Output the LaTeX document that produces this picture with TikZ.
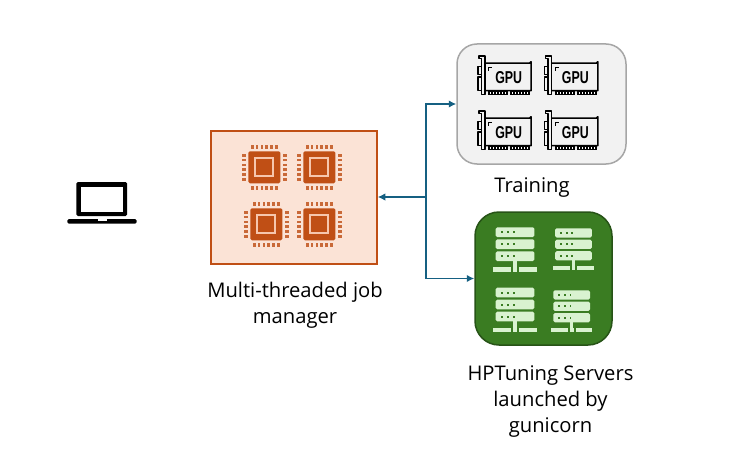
\documentclass[tikz,border=0pt]{standalone}
\usetikzlibrary{arrows.meta}
\usepackage{fontspec}
\setmainfont{Open Sans}
\newfontfamily\gpufont{Liberation Sans}
\definecolor{flow}{HTML}{156082}
\definecolor{rust}{HTML}{C04F15}
\definecolor{peach}{HTML}{FBE3D6}
\definecolor{ringc}{HTML}{F6C6AD}
\definecolor{greyfill}{HTML}{F2F2F2}
\definecolor{greyline}{HTML}{A6A6A6}
\definecolor{grn}{HTML}{3A7C22}
\definecolor{grnline}{HTML}{275317}
\definecolor{pale}{HTML}{D9F2D0}
\tikzset{
  arrowline/.style={draw=flow,line width=1.8pt,-{Latex[length=7.5pt,width=7.5pt]}},
  label/.style={align=center,font=\fontsize{20.2}{26}\selectfont,text=black,inner sep=0pt},
  cpu/.pic={
    \fill[rust,rounded corners=1.5pt] (-16,-16) rectangle (16,16);
    \fill[ringc] (-10,-10) rectangle (10,10);
    \fill[rust] (-8,-8) rectangle (8,8);
    \foreach \k in {-2.5,-1.5,-0.5,0.5,1.5,2.5}{
      \fill[rust!85] (\k*4.8-1.3,-22.3) rectangle (\k*4.8+1.3,-18.3);
      \fill[rust!85] (\k*4.8-1.3,18.3) rectangle (\k*4.8+1.3,22.3);
      \fill[rust!85] (-22.3,\k*4.8-1.3) rectangle (-18.3,\k*4.8+1.3);
      \fill[rust!85] (18.3,\k*4.8-1.3) rectangle (22.3,\k*4.8+1.3);
    }
  },
  gpu/.pic={
    \begin{scope}[draw=black,line width=1.5pt,line join=round]
      \draw (1.5,0.5) -- (7.5,0.5) -- (7.5,39) -- (4,39) -- (4,3) -- (1.5,3) -- cycle;
      \draw (0.7,11) rectangle (4,19);
      \draw (0.7,21.5) rectangle (4,35);
      \draw (7.5,7.5) -- (52.3,7.5) arc[start angle=90,end angle=0,radius=1.5] -- (53.8,35) -- (7.5,35);
      \draw[line width=1.1pt] (11.5,15) -- (11.5,11.5) -- (15,11.5);
      \fill[black] (11,35) rectangle (31,39.3);
      \fill[black] (33,35) rectangle (53,39.3);
    \end{scope}
    \foreach \t in {12.5,15.5,18.5,21.5,24.5,27.5,34.5,37.5,40.5,43.5,46.5,49.5}
      \fill[white] (\t,36.2) rectangle (\t+1.3,38);
    \node[font=\gpufont\bfseries\fontsize{17.2}{17.2}\selectfont,inner sep=0pt,xscale=.72] (-name) at (31.4,21.8) {GPU};
  },
  server/.pic={
    \foreach \r in {0,12,24}{
      \fill[pale,rounded corners=1.5pt] (-19.3,\r) rectangle (19.3,\r+9.7);
      \foreach \d in {-13.3,-7.3,-1.3}
        \fill[grn] (\d-1,\r+3.85) rectangle (\d+1,\r+5.85);
    }
    \fill[pale] (-1.7,33.7) rectangle (1.7,41);
    \fill[pale] (-21.7,40) rectangle (-4,44.3);
    \fill[pale] (-2,40) rectangle (2,44.3);
    \fill[pale] (4,40) rectangle (21.7,44.3);
  },
  laptop/.pic={
    \fill[black,rounded corners=1.5pt] (76.3,182) rectangle (127,216);
    \fill[white] (81.3,186.7) rectangle (122.7,211.7);
    \fill[black,rounded corners=1.5pt] (67.3,219) rectangle (136.7,223.7);
    \fill[white] (97.7,219) rectangle (106.7,220.6);
  }
}
\begin{document}
\begin{tikzpicture}[x=1pt,y=-1pt]
\useasboundingbox (0,0) rectangle (749,460);

\pic (laptopicon) {laptop};

\node[draw=rust,fill=peach,line width=1.5pt,minimum width=166pt,minimum height=133pt,inner sep=0pt] (mgr) at (294,197.5) {};
\pic (c1) at (264.3,167.3) {cpu};
\pic (c2) at (319.3,167.3) {cpu};
\pic (c3) at (266.3,224.3) {cpu};
\pic (c4) at (319.3,224.3) {cpu};

\node[draw=greyline,fill=greyfill,line width=1.5pt,rounded corners=20pt,minimum width=169pt,minimum height=120pt,inner sep=0pt] (gpubox) at (541.5,104) {};
\pic (g1) at (477.3,55.7) {gpu};
\pic (g2) at (544,55.7) {gpu};
\pic (g3) at (477.3,110.7) {gpu};
\pic (g4) at (544,110.7) {gpu};

\node[draw=grnline,fill=grn,line width=1.5pt,rounded corners=24pt,minimum width=137pt,minimum height=133pt,inner sep=0pt] (srvbox) at (543.5,278.5) {};
\pic (s1) at (515,227.3) {server};
\pic[scale=.95] (s2) at (573.5,228.3) {server};
\pic (s3) at (515,287.7) {server};
\pic[scale=.95] (s4) at (571.7,290.3) {server};

\coordinate (hub) at (426,197);
\draw[arrowline] (hub) -- (mgr.east |- hub);
\draw[arrowline] (hub) |- (gpubox.west);
\draw[arrowline] (hub) |- (srvbox.west);

\node[label] (trainlabel) at (532,188) {Training};
\node[label] (mgrlabel) at (295,305) {Multi-threaded job\\manager};
\node[label] (srvlabel) at (550.5,401.5) {HPTuning Servers\\launched by\\gunicorn};
\end{tikzpicture}
\end{document}
